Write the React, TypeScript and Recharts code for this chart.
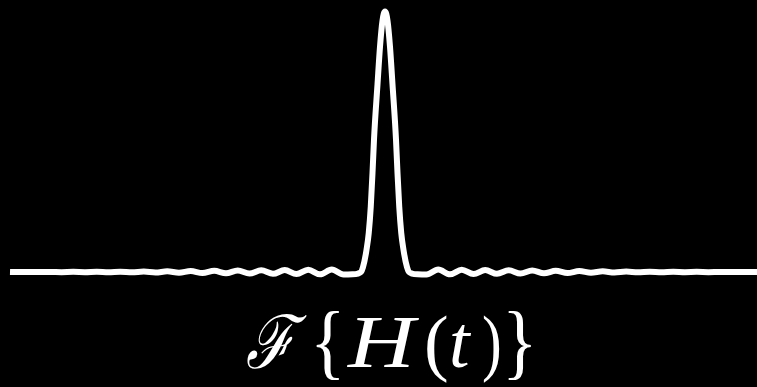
import React from 'react';
import { LineChart, Line, XAxis, YAxis } from 'recharts';

// frequency axis (units of the first zero) and spectrum magnitude
const freqs = [
  -15.0, -14.82, -14.35, -13.88, -13.41, -12.94, -12.47, -12.0, -11.53, -11.06,
  -10.59, -10.12, -9.65, -9.18, -8.71, -8.24, -7.77, -7.3, -6.83, -6.36,
  -5.89, -5.42, -4.95, -4.48, -4.01, -3.54, -3.07, -2.6, -2.13, -1.66,
  -1.3, -1.08, -0.96, -0.88, -0.74, -0.65, -0.57, -0.5, -0.44, -0.3,
  -0.2, -0.1, 0,
  0.1, 0.2, 0.3, 0.44, 0.5, 0.57, 0.65, 0.74, 0.88, 0.96,
  1.08, 1.3, 1.66, 2.13, 2.6, 3.07, 3.54, 4.01, 4.48, 4.95,
  5.42, 5.89, 6.36, 6.83, 7.3, 7.77, 8.24, 8.71, 9.18, 9.65,
  10.12, 10.59, 11.06, 11.53, 12.0, 12.47, 12.94, 13.41, 13.88, 14.35,
  14.82, 15.4,
];

const magnitude = [
  0, -0.0003, 0.0003, -0.0004, 0.0004, -0.0005, 0.0005, -0.0006, 0.0007, -0.0008,
  0.001, -0.0012, 0.0015, -0.002, 0.0025, -0.003, 0.0035, -0.004, 0.0045, -0.005,
  0.0055, -0.006, 0.0065, -0.007, 0.0075, -0.008, 0.0085, -0.009, 0.0095, -0.01,
  -0.009, -0.006, 0.0, 0.019, 0.085, 0.15, 0.25, 0.38, 0.508, 0.72,
  0.865, 0.965, 1,
  0.965, 0.865, 0.72, 0.508, 0.38, 0.25, 0.15, 0.085, 0.019, 0.0,
  -0.006, -0.009, -0.01, 0.0095, -0.009, 0.0085, -0.008, 0.0075, -0.007, 0.0065,
  -0.006, 0.0055, -0.005, 0.0045, -0.004, 0.0035, -0.003, 0.0025, -0.002, 0.0015,
  -0.0012, 0.001, -0.0008, 0.0007, -0.0006, 0.0005, -0.0005, 0.0004, -0.0004, 0.0003,
  -0.0003, 0,
];

const data = freqs.map((f, i) => ({ f, v: magnitude[i] }));

// one absolutely placed glyph of the formula below the plot
const glyph = (left: number, width: number, extra: React.CSSProperties = {}): React.CSSProperties => ({
  position: 'absolute',
  left,
  width,
  top: 305,
  lineHeight: 1,
  overflow: 'visible',
  ...extra,
});

export default function App() {
  return (
    <div
      style={{
        position: 'fixed',
        left: 0,
        top: 0,
        width: 757,
        height: 387,
        background: '#000',
        overflow: 'hidden',
      }}
    >
      <LineChart
        width={770}
        height={300}
        data={data}
        margin={{ top: 0, right: 0, bottom: 0, left: 0 }}
      >
        <XAxis dataKey="f" type="number" domain={[-15.4, 15.4]} hide allowDataOverflow />
        <YAxis type="number" domain={[-0.1075, 1.0441]} hide allowDataOverflow />
        <Line
          type="monotone"
          dataKey="v"
          stroke="#fff"
          strokeWidth={6}
          strokeLinecap="butt"
          dot={false}
          isAnimationActive={false}
        />
      </LineChart>
      <div
        style={{
          position: 'absolute',
          inset: 0,
          color: '#fff',
          fontFamily: '"Liberation Serif", "DejaVu Serif", serif',
          fontSize: 74,
          whiteSpace: 'nowrap',
        }}
      >
        <span
          style={glyph(246, 60, {
            fontFamily: '"DejaVu Serif", serif',
            fontStyle: 'italic',
            transform: 'scaleX(0.8)',
            transformOrigin: '0 0',
          })}
        >
          ℱ
        </span>
        <span style={glyph(310, 34, { transform: 'scaleY(1.12)', transformOrigin: '50% 60%' })}>{'{'}</span>
        <span style={glyph(348, 72, { fontStyle: 'italic', transform: 'scaleX(1.25)', transformOrigin: '0 0' })}>
          H
        </span>
        <span style={glyph(424, 20)}>(</span>
        <span style={glyph(449, 26, { fontStyle: 'italic' })}>t</span>
        <span style={glyph(482, 18, { transform: 'scaleX(0.8)', transformOrigin: '0 0' })}>)</span>
        <span style={glyph(502, 30, { transform: 'scaleY(1.12)', transformOrigin: '50% 60%' })}>{'}'}</span>
      </div>
    </div>
  );
}
